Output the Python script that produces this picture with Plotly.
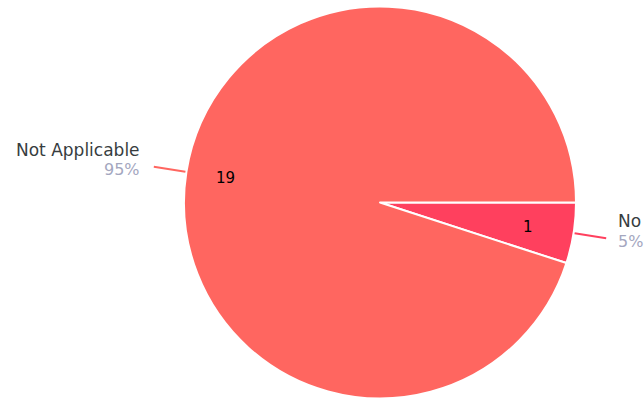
import math
import plotly.graph_objects as go

# ---- data ----
labels = ["No", "Not Applicable"]
values = [1, 19]
colors = ["#FF405E", "#FF6660"]

# ---- layout constants ----
W, H = 644, 401
CX, CY, R = 380.0, 202.5, 196.0   # pixel centre / radius of the pie
FONT = "DejaVu Sans"

fig = go.Figure(go.Pie(
    labels=labels,
    values=values,
    sort=False,
    direction="clockwise",
    rotation=90,
    marker=dict(colors=colors, line=dict(color="white", width=2)),
    textinfo="none",
    hoverinfo="label+value+percent",
    showlegend=False,
    domain=dict(x=[(CX - R) / W, (CX + R) / W],
                y=[1 - (CY + R) / H, 1 - (CY - R) / H]),
))

total = sum(values)
annotations = []
shapes = []
start = 0.0  # degrees, math convention, start at 3 o'clock, clockwise
for lab, val, col in zip(labels, values, colors):
    span = 360.0 * val / total
    mid = math.radians(start - span / 2)
    start -= span
    c, s = math.cos(mid), math.sin(mid)

    def px(r):
        return CX + r * c, CY - r * s

    # inside value label
    ix, iy = px(R * 0.80)
    annotations.append(dict(x=ix / W, y=1 - iy / H, xref="paper", yref="paper",
                            text=str(val), showarrow=False,
                            font=dict(family=FONT, size=15, color="#000000")))
    # leader line
    x0, y0 = px(R + 1)
    x1, y1 = px(R + 33)
    shapes.append(dict(type="line", xref="paper", yref="paper",
                       x0=x0 / W, y0=1 - y0 / H, x1=x1 / W, y1=1 - y1 / H,
                       line=dict(color=col, width=2)))
    # outside label + percent
    right = c >= 0
    tx = x1 + (10 if right else -12)
    anchor = "left" if right else "right"
    pct = f"{round(100 * val / total)}%"
    annotations.append(dict(x=tx / W, y=1 - (y1 - 17) / H, xref="paper", yref="paper",
                            text=lab, showarrow=False, xanchor=anchor, yanchor="middle",
                            font=dict(family=FONT, size=17, color="#373D3F")))
    annotations.append(dict(x=tx / W, y=1 - (y1 + 3) / H, xref="paper", yref="paper",
                            text=pct, showarrow=False, xanchor=anchor, yanchor="middle",
                            font=dict(family=FONT, size=16, color="#A4A7BF")))

fig.update_layout(
    width=W, height=H,
    margin=dict(l=0, r=0, t=0, b=0),
    paper_bgcolor="white",
    plot_bgcolor="white",
    annotations=annotations,
    shapes=shapes,
)

fig.write_html("out.html",
               config={"displayModeBar": False},
               post_script="document.body.style.margin='0';document.body.style.overflow='hidden';")
